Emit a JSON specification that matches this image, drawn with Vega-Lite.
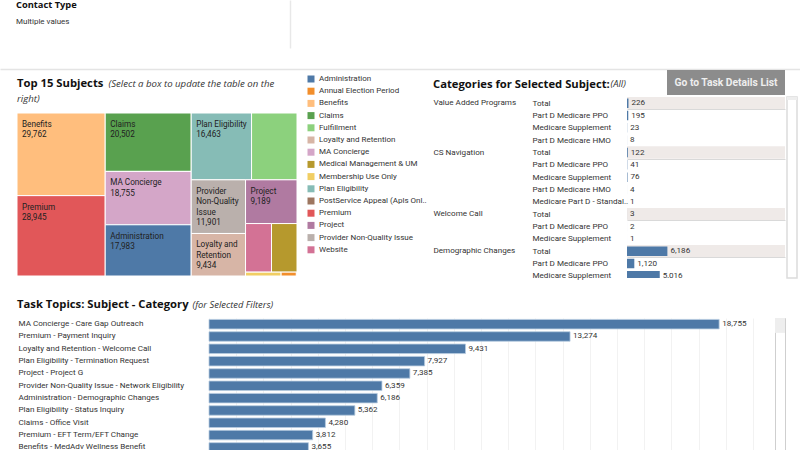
{
  "$schema": "https://vega.github.io/schema/vega-lite/v6.json",
  "padding": 0,
  "background": "white",
  "spacing": 10,
  "config": {
    "font": "Roboto",
    "view": {"stroke": null},
    "title": {"font": "Open Sans", "fontWeight": "bold", "color": "#111111", "fontSize": 11.25, "anchor": "start", "frame": "group", "subtitleFont": "Roboto", "subtitleFontSize": 8, "subtitleColor": "#333333"},
    "axis": {"labelFont": "Roboto", "titleFont": "Open Sans", "labelColor": "#333333", "labelFontSize": 8.1, "titleFontSize": 9.4, "titleFontWeight": "normal", "titleFontStyle": "italic", "titleColor": "#333333"}
  },
  "vconcat": [
    {
      "spacing": 0,
      "vconcat": [
        {
          "width": 290,
          "height": 48,
          "title": {"text": "Contact Type", "subtitle": "Multiple values", "fontSize": 9.3, "dx": 16, "offset": -26, "subtitlePadding": 8},
          "data": {"values": [{"a": 1}]},
          "mark": {"type": "point", "opacity": 0, "size": 0},
          "encoding": {
            "y": {"datum": 0, "scale": {"domain": [0, 1]}, "axis": {"orient": "right", "labels": false, "ticks": false, "title": null, "grid": false, "domainColor": "#e8e8e8", "domainWidth": 1.5}}
          }
        },
        {
          "width": 800,
          "height": 22,
          "data": {"values": [{"a": 1}]},
          "mark": {"type": "point", "opacity": 0, "size": 0},
          "encoding": {
            "x": {"datum": 0, "scale": {"domain": [0, 1]}, "axis": {"orient": "bottom", "offset": -1, "labels": false, "ticks": false, "title": null, "grid": false, "domainColor": "#e4e4e4", "domainWidth": 1.5}}
          }
        },
        {
          "spacing": 127,
          "hconcat": [
            {
              "width": 297,
              "height": 206,
              "title": {"text": "Top 15 Subjects", "subtitle": "right)", "subtitleFont": "Open Sans", "subtitleFontStyle": "italic", "subtitleFontSize": 9.6, "subtitlePadding": 5, "dx": 17, "offset": -34},
              "data": {
                "values": [
                  {"Subject": "Benefits", "Tasks": 29762, "path": "a1111", "Label": "Benefits"},
                  {"Subject": "Premium", "Tasks": 28945, "path": "a2111", "Label": "Premium"},
                  {"Subject": "Claims", "Tasks": 20502, "path": "b1111", "Label": "Claims"},
                  {"Subject": "MA Concierge", "Tasks": 18755, "path": "b2111", "Label": "MA Concierge"},
                  {"Subject": "Administration", "Tasks": 17983, "path": "b3111", "Label": "Administration"},
                  {"Subject": "Plan Eligibility", "Tasks": 16463, "path": "c1111", "Label": "Plan Eligibility"},
                  {"Subject": "Fulfillment", "Tasks": 12400, "path": "c1211"},
                  {"Subject": "Provider Non-Quality Issue", "Tasks": 11901, "path": "c2111", "Label": "Provider|Non-Quality|Issue"},
                  {"Subject": "Loyalty and Retention", "Tasks": 9434, "path": "c2121", "Label": "Loyalty and|Retention"},
                  {"Subject": "Project", "Tasks": 9189, "path": "c2211", "Label": "Project"},
                  {"Subject": "Website", "Tasks": 5150, "path": "c2221"},
                  {"Subject": "Medical Management & UM", "Tasks": 5060, "path": "c2222"},
                  {"Subject": "Membership Use Only", "Tasks": 560, "path": "c2231"},
                  {"Subject": "Annual Election Period", "Tasks": 240, "path": "c2232"},
                  {"Subject": "PostService Appeal (Apls Onl..", "Tasks": 10, "path": "c2233"}
                ]
              },
              "transform": [
                {"calculate": "substring(datum.path,0,1)", "as": "p1"},
                {"calculate": "substring(datum.path,0,2)", "as": "p2"},
                {"calculate": "substring(datum.path,0,3)", "as": "p3"},
                {"calculate": "substring(datum.path,0,4)", "as": "p4"},
                {"stack": "Tasks", "groupby": [], "sort": [{"field": "path", "order": "ascending"}], "as": ["a1", "b1"]},
                {"joinaggregate": [{"op": "min", "field": "a1", "as": "lo1"}, {"op": "max", "field": "b1", "as": "hi1"}], "groupby": ["p1"]},
                {"joinaggregate": [{"op": "max", "field": "b1", "as": "t1"}]},
                {"calculate": "datum.lo1/datum.t1", "as": "xa"},
                {"calculate": "datum.hi1/datum.t1", "as": "xb"},
                {"stack": "Tasks", "groupby": ["p1"], "sort": [{"field": "path", "order": "ascending"}], "as": ["a2", "b2"]},
                {"joinaggregate": [{"op": "min", "field": "a2", "as": "lo2"}, {"op": "max", "field": "b2", "as": "hi2"}], "groupby": ["p2"]},
                {"joinaggregate": [{"op": "max", "field": "b2", "as": "t2"}], "groupby": ["p1"]},
                {"calculate": "datum.lo2/datum.t2", "as": "ya"},
                {"calculate": "datum.hi2/datum.t2", "as": "yb"},
                {"stack": "Tasks", "groupby": ["p2"], "sort": [{"field": "path", "order": "ascending"}], "as": ["a3", "b3"]},
                {"joinaggregate": [{"op": "min", "field": "a3", "as": "lo3"}, {"op": "max", "field": "b3", "as": "hi3"}], "groupby": ["p3"]},
                {"joinaggregate": [{"op": "max", "field": "b3", "as": "t3"}], "groupby": ["p2"]},
                {"calculate": "datum.xa+(datum.xb-datum.xa)*datum.lo3/datum.t3", "as": "xc"},
                {"calculate": "datum.xa+(datum.xb-datum.xa)*datum.hi3/datum.t3", "as": "xd"},
                {"stack": "Tasks", "groupby": ["p3"], "sort": [{"field": "path", "order": "ascending"}], "as": ["a4", "b4"]},
                {"joinaggregate": [{"op": "min", "field": "a4", "as": "lo4"}, {"op": "max", "field": "b4", "as": "hi4"}], "groupby": ["p4"]},
                {"joinaggregate": [{"op": "max", "field": "b4", "as": "t4"}], "groupby": ["p3"]},
                {"calculate": "datum.ya+(datum.yb-datum.ya)*datum.lo4/datum.t4", "as": "Y0"},
                {"calculate": "datum.ya+(datum.yb-datum.ya)*datum.hi4/datum.t4", "as": "Y1"},
                {"stack": "Tasks", "groupby": ["p4"], "sort": [{"field": "path", "order": "ascending"}], "as": ["a5", "b5"]},
                {"joinaggregate": [{"op": "max", "field": "b5", "as": "t5"}], "groupby": ["p4"]},
                {"calculate": "datum.xc+(datum.xd-datum.xc)*datum.a5/datum.t5", "as": "X0"},
                {"calculate": "datum.xc+(datum.xd-datum.xc)*datum.b5/datum.t5", "as": "X1"},
                {"calculate": "datum.Label ? datum.Label+'|'+format(datum.Tasks,',') : ''", "as": "Text"}
              ],
              "encoding": {
                "x": {"field": "X0", "type": "quantitative", "scale": {"domain": [0, 1], "range": [17, 297], "nice": false, "zero": false},
                  "axis": {"orient": "top", "labels": false, "ticks": false, "domain": false, "grid": false, "title": "(Select a box to update the table on the", "titleFontSize": 9.6, "titleX": 108, "titleY": 18, "titleAlign": "left", "titleAnchor": null}},
                "y": {"field": "Y0", "type": "quantitative", "scale": {"domain": [0, 1], "range": [43, 206], "nice": false, "zero": false}, "axis": null}
              },
              "layer": [
                {
                  "mark": {"type": "rect", "stroke": "white", "strokeWidth": 1},
                  "encoding": {
                    "x2": {"field": "X1"},
                    "y2": {"field": "Y1"},
                    "color": {
                      "field": "Subject",
                      "type": "nominal",
                      "scale": {
                        "domain": ["Administration", "Annual Election Period", "Benefits", "Claims", "Fulfillment", "Loyalty and Retention", "MA Concierge", "Medical Management & UM", "Membership Use Only", "Plan Eligibility", "PostService Appeal (Apls Onl..", "Premium", "Project", "Provider Non-Quality Issue", "Website"],
                        "range": ["#4e79a7", "#f28e2b", "#ffbe7d", "#59a14f", "#8cd17d", "#d7b5a6", "#d4a6c8", "#b6992d", "#f1ce63", "#86bcb6", "#9d7660", "#e15759", "#b07aa1", "#bab0ac", "#d37295"]
                      },
                      "legend": {"orient": "none", "legendX": 307, "legendY": 75, "title": null, "symbolType": "square", "symbolSize": 49, "symbolStrokeWidth": 0, "labelFont": "Roboto", "labelFontSize": 8, "labelColor": "#333333", "labelOffset": 4, "rowPadding": 4.2, "labelLimit": 120}
                    }
                  }
                },
                {
                  "mark": {"type": "text", "align": "left", "baseline": "top", "dx": 5, "dy": 8, "fontSize": 8.2, "color": "#222222", "lineBreak": "|", "lineHeight": 10.4},
                  "encoding": {"text": {"field": "Text"}}
                }
              ]
            },
            {
              "spacing": -2,
              "vconcat": [
                {
                  "width": 356,
                  "height": 25,
                  "title": {"text": "Categories for Selected Subject:", "dx": 4, "offset": -20},
                  "data": {"values": [{"Action": "Go to Task Details List"}]},
                  "layer": [
                    {"mark": {"type": "rect", "color": "#8c8c8c"}, "encoding": {
                      "x": {"datum": 0, "scale": {"domain": [0, 1], "range": [238, 356]},
                        "axis": {"orient": "top", "labels": false, "ticks": false, "domain": false, "grid": false, "title": "(All)", "titleX": 181, "titleY": 18, "titleAlign": "left", "titleAnchor": null}},
                      "x2": {"datum": 1}}},
                    {"mark": {"type": "text", "color": "#eeeeee", "fontWeight": "bold", "fontSize": 10.3}, "encoding": {
                      "x": {"datum": 0.5, "scale": {"domain": [0, 1], "range": [238, 356]},
                        "axis": {"orient": "top", "labels": false, "ticks": false, "domain": false, "grid": false, "title": "(All)", "titleX": 181, "titleY": 18, "titleAlign": "left", "titleAnchor": null}},
                      "text": {"field": "Action"}}}
                  ]
                },
                {
                  "spacing": 1,
                  "hconcat": [
                    {
                      "width": 356,
                      "height": 181,
                      "data": {
                        "values": [
                          {"Category": "Value Added Programs", "Type": "Total", "Tasks": 226},
                          {"Category": "Value Added Programs", "Type": "Part D Medicare PPO", "Tasks": 195},
                          {"Category": "Value Added Programs", "Type": "Medicare Supplement", "Tasks": 23},
                          {"Category": "Value Added Programs", "Type": "Part D Medicare HMO", "Tasks": 8},
                          {"Category": "CS Navigation", "Type": "Total", "Tasks": 122},
                          {"Category": "CS Navigation", "Type": "Part D Medicare PPO", "Tasks": 41},
                          {"Category": "CS Navigation", "Type": "Medicare Supplement", "Tasks": 76},
                          {"Category": "CS Navigation", "Type": "Part D Medicare HMO", "Tasks": 4},
                          {"Category": "CS Navigation", "Type": "Medicare Part D - Standal..", "Tasks": 1},
                          {"Category": "Welcome Call", "Type": "Total", "Tasks": 3},
                          {"Category": "Welcome Call", "Type": "Part D Medicare PPO", "Tasks": 2},
                          {"Category": "Welcome Call", "Type": "Medicare Supplement", "Tasks": 1},
                          {"Category": "Demographic Changes", "Type": "Total", "Tasks": 6186},
                          {"Category": "Demographic Changes", "Type": "Part D Medicare PPO", "Tasks": 1120},
                          {"Category": "Demographic Changes", "Type": "Medicare Supplement", "Tasks": 5016}
                        ]
                      },
                      "transform": [{"calculate": "datum.Category+'|'+datum.Type", "as": "Row"}],
                      "resolve": {"axis": {"y": "independent"}},
                      "layer": [
                        {
                          "mark": {"type": "rect", "color": "#efeae8"},
                          "encoding": {
                            "y": {"field": "Row", "type": "nominal", "sort": null, "scale": {"range": [0, 185], "paddingInner": 0, "paddingOuter": 0},
                              "axis": {"orient": "left", "title": null, "domain": false, "ticks": false, "tickBand": "extent", "labelAlign": "left", "labelPadding": -103, "labelLimit": 0, "labelExpr": "split(''+datum.value,'|')[1]", "labelBound": false, "labelOverlap": false, "grid": true, "gridColor": "#d9d9d9", "gridOpacity": {"condition": {"test": "indexof(''+datum.value,'|Total')>=0", "value": 1}, "value": 0}}},
                            "x": {"datum": 0, "scale": {"domain": [0, 24200], "range": [198, 356], "nice": false},
                              "axis": {"orient": "top", "labels": false, "ticks": false, "domain": false, "title": null, "grid": true, "gridColor": "#f0f0f0", "values": [0, 5000, 10000, 15000, 20000]}},
                            "x2": {"datum": 24200},
                            "opacity": {"condition": {"test": "datum.Type=='Total'", "value": 1}, "value": 0}
                          }
                        },
                        {
                          "mark": {"type": "bar", "color": "#4e79a7", "height": 9.5, "clip": true},
                          "encoding": {
                            "y": {"field": "Row", "type": "nominal", "sort": null,
                              "axis": {"orient": "left", "title": null, "domain": false, "ticks": false, "labelAlign": "left", "labelPadding": -4, "labelLimit": 0, "labelExpr": "indexof(''+datum.value,'|Total')>=0 ? split(''+datum.value,'|')[0] : ''", "labelBound": false, "labelOverlap": false}},
                            "x": {"field": "Tasks", "type": "quantitative", "axis": null}
                          }
                        },
                        {
                          "mark": {"type": "text", "align": "left", "dx": 3, "fontSize": 8.1, "color": "#333333", "clip": true},
                          "encoding": {
                            "y": {"field": "Row", "type": "nominal", "sort": null, "axis": null},
                            "x": {"field": "Tasks", "type": "quantitative", "axis": null},
                            "text": {"field": "Tasks", "type": "quantitative", "format": ","}
                          }
                        }
                      ]
                    },
                    {
                      "width": 10,
                      "height": 181,
                      "view": {"stroke": "#dcdcdc", "strokeWidth": 1.5},
                      "data": {"values": [{"part": "thumb"}]},
                      "mark": {"type": "rect", "color": "#eeeeee"},
                      "encoding": {
                        "y": {"datum": 0, "scale": {"domain": [0, 60], "nice": false, "reverse": true, "zero": false}, "axis": null},
                        "y2": {"datum": 1}
                      }
                    }
                  ]
                }
              ]
            }
          ]
        }
      ]
    },
    {
      "spacing": 4,
      "hconcat": [
        {
          "width": 770,
          "height": 134,
          "title": {"text": "Task Topics: Subject - Category", "dx": 17, "offset": -11},
          "data": {
            "values": [
              {"Topic": "MA Concierge - Care Gap Outreach", "Tasks": 18755},
              {"Topic": "Premium - Payment Inquiry", "Tasks": 13274},
              {"Topic": "Loyalty and Retention - Welcome Call", "Tasks": 9431},
              {"Topic": "Plan Eligibility - Termination Request", "Tasks": 7927},
              {"Topic": "Project - Project G", "Tasks": 7385},
              {"Topic": "Provider Non-Quality Issue - Network Eligibility", "Tasks": 6359},
              {"Topic": "Administration - Demographic Changes", "Tasks": 6186},
              {"Topic": "Plan Eligibility - Status Inquiry", "Tasks": 5362},
              {"Topic": "Claims - Office Visit", "Tasks": 4280},
              {"Topic": "Premium - EFT Term/EFT Change", "Tasks": 3812},
              {"Topic": "Benefits - MedAdv Wellness Benefit", "Tasks": 3655}
            ]
          },
          "encoding": {
            "y": {"field": "Topic", "type": "nominal", "sort": null, "scale": {"range": [0, 135.6], "paddingInner": 0, "paddingOuter": 0},
              "axis": {"orient": "left", "title": null, "domain": false, "ticks": false, "labelAlign": "left", "labelPadding": -18, "labelLimit": 0, "labelBound": false, "labelOverlap": false}},
            "x": {"field": "Tasks", "type": "quantitative", "scale": {"domain": [0, 20625], "range": [209, 770], "nice": false},
              "axis": {"orient": "top", "labels": false, "ticks": false, "domain": false, "grid": true, "gridColor": "#f2f2f2", "tickCount": 20, "title": "(for Selected Filters)", "titleX": 192, "titleY": -9, "titleAlign": "left", "titleAnchor": null}}
          },
          "layer": [
            {"mark": {"type": "bar", "color": "#4e79a7", "height": 9.5, "stroke": "#b8cbe0", "strokeWidth": 0.8, "clip": true}},
            {
              "mark": {"type": "text", "align": "left", "dx": 3, "fontSize": 8.1, "color": "#333333", "clip": true},
              "encoding": {"text": {"field": "Tasks", "type": "quantitative", "format": ","}}
            }
          ]
        },
        {
          "width": 10,
          "height": 134,
          "view": {"stroke": "#cfcfcf", "strokeWidth": 1},
          "data": {"values": [{"part": "thumb"}]},
          "mark": {"type": "rect", "color": "#eeeeee"},
          "encoding": {
            "y": {"datum": 0, "scale": {"domain": [0, 9], "nice": false, "reverse": true, "zero": false}, "axis": null},
            "y2": {"datum": 1}
          }
        }
      ]
    }
  ]
}
